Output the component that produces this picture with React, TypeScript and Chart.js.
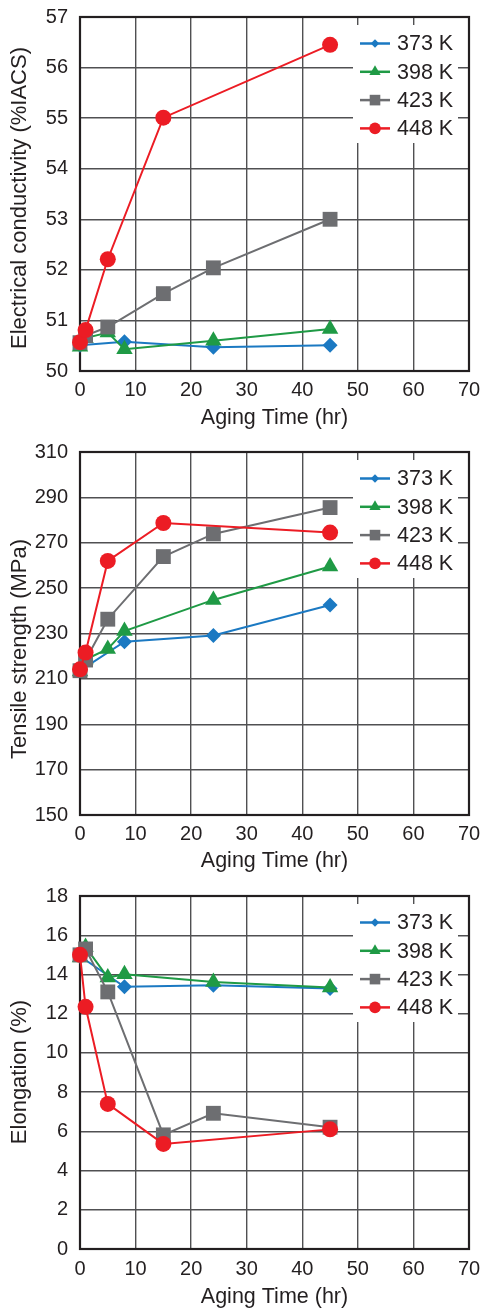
import React, { useEffect, useRef } from 'react';
import { Chart, registerables } from 'chart.js';

Chart.register(...registerables);

// ---------- data ----------
const SERIES_LABELS = ['373 K', '398 K', '423 K', '448 K'];

const TIMES_373 = [0, 8, 24, 45];
const TIMES_398 = [0, 1, 5, 8, 24, 45];
const TIMES_423 = [0, 1, 5, 15, 24, 45];
const TIMES_448 = [0, 1, 5, 15, 45];

// Electrical conductivity (%IACS)
const COND_373 = [50.51, 50.58, 50.47, 50.51];
const COND_398 = [50.48, 50.65, 50.76, 50.43, 50.6, 50.83];
const COND_423 = [50.56, 50.7, 50.87, 51.53, 52.04, 53.0];
const COND_448 = [50.57, 50.81, 52.21, 55.01, 56.45];

// Tensile strength (MPa)
const TS_373 = [213.6, 226.4, 229.1, 242.6];
const TS_398 = [213.2, 218.5, 223.2, 231.1, 244.8, 259.5];
const TS_423 = [213.6, 218.3, 236.3, 263.9, 273.9, 285.5];
const TS_448 = [214.2, 221.6, 262.0, 278.7, 274.5];

// Elongation (%)
const EL_373 = [14.93, 13.37, 13.45, 13.28];
const EL_398 = [14.86, 15.4, 13.84, 14.01, 13.62, 13.34];
const EL_423 = [15.0, 15.3, 13.11, 5.82, 6.92, 6.21];
const EL_448 = [15.0, 12.35, 7.4, 5.36, 6.1];

const X_TITLE = 'Aging Time (hr)';
const X_MIN = 0;
const X_MAX = 70;
const X_STEP = 10;

// ---------- styles ----------
const COLORS = ['#1b79c2', '#1f9a45', '#6d6e71', '#ec1c24'];
const POINT_STYLES = ['rectRot', 'triangle', 'rect', 'circle'];
const POINT_RADII = [7.5, 9.5, 10.5, 8];
const LEGEND_RADII = [4.2, 6.5, 7.5, 5.8];
const TEXT = '#231f20';
const GRID = '#505052';
const FONT = '"Liberation Sans", Arial, Helvetica, sans-serif';

const TIMES = [TIMES_373, TIMES_398, TIMES_423, TIMES_448];

function drawMarker(ctx: CanvasRenderingContext2D, style: string, x: number, y: number, r: number, color: string) {
  ctx.save();
  ctx.fillStyle = color;
  ctx.beginPath();
  if (style === 'circle') {
    ctx.arc(x, y, r, 0, Math.PI * 2);
  } else if (style === 'rect') {
    const s = r * Math.SQRT1_2;
    ctx.rect(x - s, y - s, 2 * s, 2 * s);
  } else if (style === 'rectRot') {
    ctx.moveTo(x, y - r);
    ctx.lineTo(x + r, y);
    ctx.lineTo(x, y + r);
    ctx.lineTo(x - r, y);
    ctx.closePath();
  } else if (style === 'triangle') {
    ctx.moveTo(x, y - r);
    ctx.lineTo(x + r * Math.sin(Math.PI / 3), y + r * 0.5);
    ctx.lineTo(x - r * Math.sin(Math.PI / 3), y + r * 0.5);
    ctx.closePath();
  }
  ctx.fill();
  ctx.restore();
}

const frameLegendPlugin = {
  id: 'frameLegend',
  beforeDatasetsDraw(chart: any) {
    const { ctx, chartArea: a } = chart;
    ctx.save();
    // plot frame
    ctx.strokeStyle = TEXT;
    ctx.lineWidth = 2.2;
    ctx.strokeRect(a.left, a.top, a.right - a.left, a.bottom - a.top);
    // legend box inside plot
    ctx.fillStyle = '#ffffff';
    ctx.fillRect(a.left + 273, a.top + 8, 105, 118);
    chart.data.datasets.forEach((ds: any, i: number) => {
      const y = a.top + 26.5 + i * 28.3;
      const x0 = a.left + 280;
      const x1 = a.left + 310;
      ctx.strokeStyle = ds.borderColor;
      ctx.lineWidth = 2.5;
      ctx.beginPath();
      ctx.moveTo(x0, y);
      ctx.lineTo(x1, y);
      ctx.stroke();
      drawMarker(ctx, ds.pointStyle, (x0 + x1) / 2, y, LEGEND_RADII[i], ds.borderColor);
      ctx.fillStyle = TEXT;
      ctx.font = '21.5px ' + FONT;
      ctx.textBaseline = 'middle';
      ctx.textAlign = 'left';
      ctx.fillText(ds.label, a.left + 317, y + 1);
    });
    // y-axis title
    const yt = chart.options.plugins.frameLegend;
    ctx.translate(20, yt.titleY);
    ctx.rotate(-Math.PI / 2);
    ctx.fillStyle = TEXT;
    ctx.font = '22px ' + FONT;
    ctx.textAlign = 'center';
    ctx.textBaseline = 'middle';
    ctx.fillText(yt.title, 0, 0);
    ctx.restore();
  },
};

type PanelProps = {
  top: number;
  height: number;
  plotTop: number;
  plotBottom: number;
  tickPad: number;
  titlePad: number;
  yMin: number;
  yMax: number;
  yStep: number;
  yTitle: string;
  yTitleCenter: number;
  values: number[][];
};

function Panel(p: PanelProps) {
  const ref = useRef<HTMLCanvasElement>(null);
  useEffect(() => {
    if (!ref.current) return;
    const datasets = SERIES_LABELS.map((label, i) => ({
      label,
      data: TIMES[i].map((t, j) => ({ x: t, y: p.values[i][j] })),
      borderColor: COLORS[i],
      backgroundColor: COLORS[i],
      borderWidth: 2,
      pointStyle: POINT_STYLES[i],
      pointRadius: POINT_RADII[i],
      pointBorderWidth: 0,
      pointBackgroundColor: COLORS[i],
      pointBorderColor: COLORS[i],
      order: 4 - i,
      clip: false,
      tension: 0,
    }));
    const axisH = p.height - (p.plotBottom - p.top);
    const chart = new Chart(ref.current, {
      type: 'line',
      data: { datasets } as any,
      options: {
        animation: false,
        responsive: false,
        layout: { padding: { top: p.plotTop - p.top, right: 12, left: 0, bottom: 0 } },
        plugins: {
          legend: { display: false },
          tooltip: { enabled: false },
          frameLegend: { title: p.yTitle, titleY: p.yTitleCenter - p.top },
        },
        scales: {
          x: {
            type: 'linear',
            min: X_MIN,
            max: X_MAX,
            ticks: { stepSize: X_STEP, padding: p.tickPad, color: TEXT, font: { size: 20, family: FONT } },
            grid: { color: GRID, lineWidth: 1.4, drawTicks: false },
            border: { display: false },
            title: {
              display: true,
              text: X_TITLE,
              color: TEXT,
              font: { size: 21.5, family: FONT },
              padding: { top: 0, bottom: p.titlePad },
            },
            afterFit: (s: any) => {
              s.height = axisH;
              s.paddingLeft = 0;
              s.paddingRight = 0;
            },
          },
          y: {
            type: 'linear',
            min: p.yMin,
            max: p.yMax,
            ticks: { stepSize: p.yStep, padding: 12, color: TEXT, font: { size: 20, family: FONT } },
            grid: { color: GRID, lineWidth: 1.4, drawTicks: false },
            border: { display: false },
            title: { display: false },
            afterFit: (s: any) => {
              s.width = 80;
              s.paddingTop = 0;
              s.paddingBottom = 0;
            },
          },
        },
      } as any,
      plugins: [frameLegendPlugin],
    });
    return () => chart.destroy();
  }, []);
  return (
    <canvas
      ref={ref}
      width={481}
      height={p.height}
      style={{ position: 'absolute', left: 0, top: p.top, width: 481, height: p.height }}
    />
  );
}

export default function App() {
  return (
    <div style={{ position: 'absolute', left: 0, top: 0, width: 481, height: 1312, background: '#fff' }}>
      <Panel
        top={0}
        height={435}
        plotTop={17}
        plotBottom={371}
        tickPad={7}
        titlePad={4}
        yMin={50}
        yMax={57}
        yStep={1}
        yTitle="Electrical conductivity (%IACS)"
        yTitleCenter={198}
        values={[COND_373, COND_398, COND_423, COND_448]}
      />
      <Panel
        top={435}
        height={444}
        plotTop={452}
        plotBottom={815}
        tickPad={7}
        titlePad={5}
        yMin={150}
        yMax={310}
        yStep={20}
        yTitle="Tensile strength (MPa)"
        yTitleCenter={649}
        values={[TS_373, TS_398, TS_423, TS_448]}
      />
      <Panel
        top={879}
        height={433}
        plotTop={896}
        plotBottom={1249}
        tickPad={8}
        titlePad={2}
        yMin={0}
        yMax={18}
        yStep={2}
        yTitle="Elongation (%)"
        yTitleCenter={1072}
        values={[EL_373, EL_398, EL_423, EL_448]}
      />
    </div>
  );
}
